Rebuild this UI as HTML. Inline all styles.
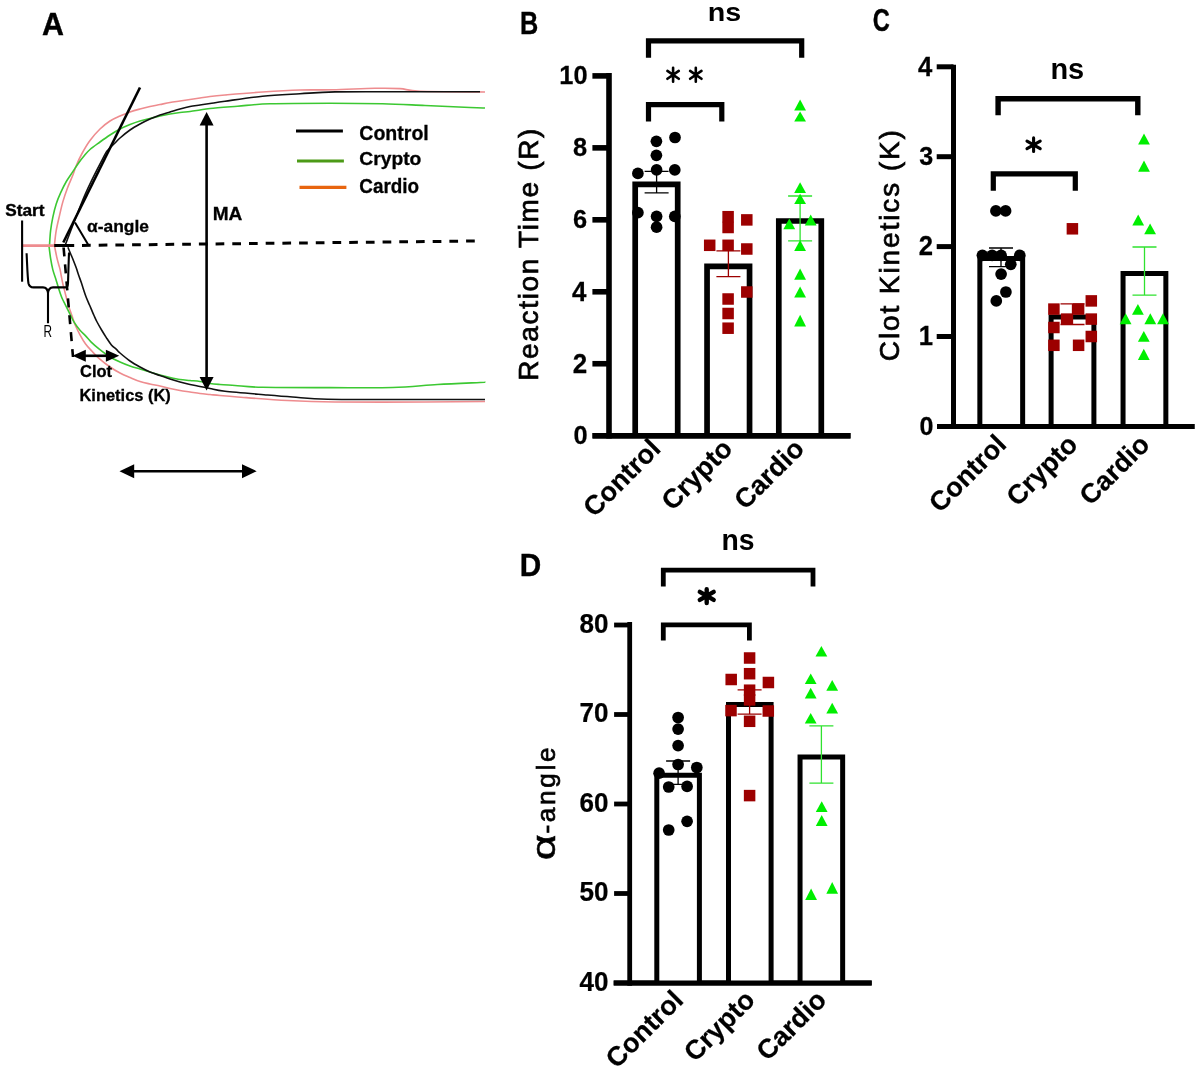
<!DOCTYPE html>
<html><head><meta charset="utf-8"><style>
html,body{margin:0;padding:0;background:#fff;}
svg{display:block;will-change:transform;}
text{font-family:"Liberation Sans",sans-serif;}
</style></head><body>
<svg width="1200" height="1071" viewBox="0 0 1200 1071">
<rect width="1200" height="1071" fill="#fff"/>
<text transform="translate(42.12,35.30) scale(0.9760,1)" style="font-family:&quot;Liberation Sans&quot;;font-weight:bold;font-style:normal;font-size:31.147px" fill="#000" stroke="#000" stroke-width="0.4">A</text>
<path d="M54.40,245.60 C54.70,243.12 55.33,235.78 56.20,230.70 C57.07,225.62 58.48,219.95 59.60,215.10 C60.72,210.25 61.60,206.08 62.90,201.60 C64.20,197.12 65.72,192.67 67.40,188.20 C69.08,183.73 71.52,178.58 73.00,174.80 C74.48,171.02 74.80,169.05 76.30,165.50 C77.80,161.95 79.72,157.67 82.00,153.50 C84.28,149.33 87.00,144.58 90.00,140.50 C93.00,136.42 96.67,132.25 100.00,129.00 C103.33,125.75 106.67,123.17 110.00,121.00 C113.33,118.83 116.67,117.50 120.00,116.00 C123.33,114.50 126.67,113.17 130.00,112.00 C133.33,110.83 136.67,109.92 140.00,109.00 C143.33,108.08 146.67,107.25 150.00,106.50 C153.33,105.75 156.67,105.17 160.00,104.50 C163.33,103.83 166.67,103.08 170.00,102.50 C173.33,101.92 176.67,101.50 180.00,101.00 C183.33,100.50 186.67,100.00 190.00,99.50 C193.33,99.00 196.67,98.50 200.00,98.00 C203.33,97.50 205.83,97.00 210.00,96.50 C214.17,96.00 216.25,95.75 225.00,95.00 C233.75,94.25 250.00,92.83 262.50,92.00 C275.00,91.17 288.33,90.37 300.00,90.00 C311.67,89.63 320.00,90.08 332.50,89.80 C345.00,89.52 363.75,88.50 375.00,88.30 C386.25,88.10 392.50,88.10 400.00,88.60 C407.50,89.10 405.83,90.73 420.00,91.30 C434.17,91.87 474.17,91.88 485.00,92.00" stroke="#ee8c8f" stroke-width="1.6" fill="none" />
<path d="M54.50,246.00 C54.87,247.80 56.05,253.88 56.70,256.80 C57.35,259.72 57.85,261.45 58.40,263.50 C58.95,265.55 59.45,266.67 60.00,269.10 C60.55,271.53 61.23,275.67 61.70,278.10 C62.17,280.53 62.33,281.65 62.80,283.70 C63.27,285.75 63.83,287.78 64.50,290.40 C65.17,293.02 66.07,296.63 66.80,299.40 C67.53,302.17 68.05,304.32 68.90,307.00 C69.75,309.68 70.85,312.50 71.90,315.50 C72.95,318.50 73.85,321.78 75.20,325.00 C76.55,328.22 78.27,331.63 80.00,334.80 C81.73,337.97 83.60,341.25 85.60,344.00 C87.60,346.75 89.82,348.95 92.00,351.30 C94.18,353.65 95.70,355.48 98.70,358.10 C101.70,360.72 106.45,364.52 110.00,367.00 C113.55,369.48 116.67,371.25 120.00,373.00 C123.33,374.75 126.67,376.08 130.00,377.50 C133.33,378.92 136.67,380.42 140.00,381.50 C143.33,382.58 146.67,383.25 150.00,384.00 C153.33,384.75 156.67,385.25 160.00,386.00 C163.33,386.75 166.67,387.75 170.00,388.50 C173.33,389.25 176.67,389.92 180.00,390.50 C183.33,391.08 186.67,391.50 190.00,392.00 C193.33,392.50 196.67,393.08 200.00,393.50 C203.33,393.92 206.67,394.17 210.00,394.50 C213.33,394.83 215.42,395.08 220.00,395.50 C224.58,395.92 226.25,396.17 237.50,397.00 C248.75,397.83 271.25,399.67 287.50,400.50 C303.75,401.33 312.08,401.75 335.00,402.00 C357.92,402.25 400.00,402.08 425.00,402.00 C450.00,401.92 475.00,401.58 485.00,401.50" stroke="#ee8c8f" stroke-width="1.6" fill="none" />
<path d="M49.50,245.00 C49.68,242.62 50.05,235.32 50.60,230.70 C51.15,226.08 51.87,221.77 52.80,217.30 C53.73,212.83 54.88,208.00 56.20,203.90 C57.52,199.80 59.02,196.43 60.70,192.70 C62.38,188.97 64.25,185.05 66.30,181.50 C68.35,177.95 70.95,174.48 73.00,171.40 C75.05,168.32 76.77,165.57 78.60,163.00 C80.43,160.43 82.10,158.25 84.00,156.00 C85.90,153.75 87.33,151.83 90.00,149.50 C92.67,147.17 96.67,144.42 100.00,142.00 C103.33,139.58 106.67,137.17 110.00,135.00 C113.33,132.83 116.67,130.75 120.00,129.00 C123.33,127.25 126.67,125.83 130.00,124.50 C133.33,123.17 136.67,122.00 140.00,121.00 C143.33,120.00 146.67,119.33 150.00,118.50 C153.33,117.67 156.67,116.75 160.00,116.00 C163.33,115.25 166.67,114.58 170.00,114.00 C173.33,113.42 176.67,112.92 180.00,112.50 C183.33,112.08 186.67,111.92 190.00,111.50 C193.33,111.08 196.67,110.50 200.00,110.00 C203.33,109.50 203.75,109.12 210.00,108.50 C216.25,107.88 227.50,107.04 237.50,106.25 C247.50,105.46 254.58,104.26 270.00,103.75 C285.42,103.24 311.25,103.20 330.00,103.20 C348.75,103.20 366.67,103.37 382.50,103.75 C398.33,104.13 410.42,104.88 425.00,105.50 C439.58,106.12 460.00,107.08 470.00,107.50 C480.00,107.92 482.50,107.92 485.00,108.00" stroke="#3cc832" stroke-width="1.6" fill="none" />
<path d="M49.00,246.00 C49.27,248.07 49.97,254.47 50.60,258.40 C51.23,262.33 51.93,266.17 52.80,269.60 C53.67,273.03 54.95,276.27 55.80,279.00 C56.65,281.73 57.15,283.58 57.90,286.00 C58.65,288.42 59.57,291.37 60.30,293.50 C61.03,295.63 61.50,297.00 62.30,298.80 C63.10,300.60 63.88,301.88 65.10,304.30 C66.32,306.72 68.10,310.32 69.60,313.30 C71.10,316.28 72.37,319.37 74.10,322.20 C75.83,325.03 78.08,328.02 80.00,330.30 C81.92,332.58 83.73,333.93 85.60,335.90 C87.47,337.87 88.87,339.85 91.20,342.10 C93.53,344.35 96.47,346.92 99.60,349.40 C102.73,351.88 106.60,354.90 110.00,357.00 C113.40,359.10 116.67,360.50 120.00,362.00 C123.33,363.50 126.67,364.83 130.00,366.00 C133.33,367.17 136.67,368.00 140.00,369.00 C143.33,370.00 146.67,371.00 150.00,372.00 C153.33,373.00 156.67,374.08 160.00,375.00 C163.33,375.92 166.67,376.75 170.00,377.50 C173.33,378.25 176.67,379.00 180.00,379.50 C183.33,380.00 186.67,380.17 190.00,380.50 C193.33,380.83 196.67,381.00 200.00,381.50 C203.33,382.00 206.67,383.00 210.00,383.50 C213.33,384.00 215.83,384.17 220.00,384.50 C224.17,384.83 227.92,385.03 235.00,385.50 C242.08,385.97 246.67,386.95 262.50,387.30 C278.33,387.65 308.33,387.57 330.00,387.60 C351.67,387.63 374.58,388.02 392.50,387.50 C410.42,386.98 422.92,385.33 437.50,384.50 C452.08,383.67 472.08,382.87 480.00,382.50 C487.92,382.13 484.17,382.33 485.00,382.30" stroke="#3cc832" stroke-width="1.6" fill="none" />
<path d="M65.10,245.50 C68.47,236.92 78.77,208.97 85.30,194.00 C91.83,179.03 100.43,163.12 104.30,155.70 C108.17,148.28 106.72,151.62 108.50,149.50 C110.28,147.38 113.08,144.92 115.00,143.00 C116.92,141.08 117.50,140.17 120.00,138.00 C122.50,135.83 126.67,132.33 130.00,130.00 C133.33,127.67 136.67,125.83 140.00,124.00 C143.33,122.17 146.67,120.50 150.00,119.00 C153.33,117.50 156.67,116.17 160.00,115.00 C163.33,113.83 166.67,113.00 170.00,112.00 C173.33,111.00 176.67,109.92 180.00,109.00 C183.33,108.08 186.67,107.17 190.00,106.50 C193.33,105.83 196.67,105.50 200.00,105.00 C203.33,104.50 205.83,104.12 210.00,103.50 C214.17,102.88 216.25,102.46 225.00,101.25 C233.75,100.04 250.00,97.50 262.50,96.25 C275.00,95.00 287.92,94.47 300.00,93.75 C312.08,93.03 318.33,92.23 335.00,91.90 C351.67,91.57 375.83,91.78 400.00,91.75 C424.17,91.72 466.67,91.75 480.00,91.75" stroke="#111" stroke-width="1.6" fill="none" />
<path d="M67.90,247.30 C68.37,248.42 69.77,251.77 70.70,254.00 C71.63,256.23 72.57,258.37 73.50,260.70 C74.43,263.03 75.47,265.67 76.30,268.00 C77.13,270.33 77.67,272.27 78.50,274.70 C79.33,277.13 80.47,280.13 81.30,282.60 C82.13,285.07 82.68,287.05 83.50,289.50 C84.32,291.95 85.20,294.72 86.20,297.30 C87.20,299.88 88.20,301.97 89.50,305.00 C90.80,308.03 92.78,312.75 94.00,315.50 C95.22,318.25 95.58,319.17 96.80,321.50 C98.02,323.83 99.72,326.82 101.30,329.50 C102.88,332.18 104.62,335.03 106.30,337.60 C107.98,340.17 109.72,342.93 111.40,344.90 C113.08,346.87 114.97,348.05 116.40,349.40 C117.83,350.75 117.73,351.07 120.00,353.00 C122.27,354.93 126.67,358.67 130.00,361.00 C133.33,363.33 136.67,365.17 140.00,367.00 C143.33,368.83 146.67,370.58 150.00,372.00 C153.33,373.42 156.67,374.33 160.00,375.50 C163.33,376.67 166.67,377.92 170.00,379.00 C173.33,380.08 176.67,381.08 180.00,382.00 C183.33,382.92 186.67,383.75 190.00,384.50 C193.33,385.25 196.67,385.83 200.00,386.50 C203.33,387.17 205.83,387.71 210.00,388.50 C214.17,389.29 215.42,390.17 225.00,391.25 C234.58,392.33 256.25,394.04 267.50,395.00 C278.75,395.96 282.50,396.28 292.50,397.00 C302.50,397.72 309.58,398.88 327.50,399.30 C345.42,399.72 373.75,399.47 400.00,399.50 C426.25,399.53 470.83,399.50 485.00,399.50" stroke="#111" stroke-width="1.6" fill="none" />
<line x1="22.80" y1="245.60" x2="54.50" y2="245.60" stroke="#ee8c8f" stroke-width="2.8" />
<line x1="22.10" y1="220.50" x2="22.10" y2="281.70" stroke="#000" stroke-width="2.1" />
<line x1="54.20" y1="245.50" x2="74.20" y2="245.50" stroke="#000" stroke-width="3" />
<line x1="82.00" y1="245.40" x2="477.00" y2="241.00" stroke="#000" stroke-width="3" stroke-dasharray="8.7 8"/>
<line x1="63.30" y1="242.50" x2="140.00" y2="87.50" stroke="#000" stroke-width="2.6" />
<line x1="75.00" y1="222.50" x2="88.50" y2="245.30" stroke="#000" stroke-width="2" />
<line x1="206.60" y1="122.00" x2="206.60" y2="380.00" stroke="#000" stroke-width="2.6" />
<path d="M206.60,112.00 L213.60,125.50 L199.60,125.50Z" fill="#000"/>
<path d="M206.60,390.50 L199.60,377.00 L213.60,377.00Z" fill="#000"/>
<path d="M26.6,253.3 C27.3,268 27.6,279 28.5,283.5 Q29.5,287.4 33.5,287.4 H43 Q47.6,287.6 48,293 V323.3 M48,293 Q48.6,287.4 53,287.4 H65.5 Q67.8,287.4 68,283.5 C68.3,275 68.6,262 69,252.5" stroke="#000" stroke-width="2.1" fill="none" />
<line x1="63.60" y1="247.50" x2="73.00" y2="357.00" stroke="#000" stroke-width="2.6" stroke-dasharray="9 8"/>
<line x1="80.00" y1="355.80" x2="112.00" y2="355.80" stroke="#000" stroke-width="2.6" />
<path d="M72.50,355.80 L85.80,349.80 L85.80,361.80Z" fill="#000"/>
<path d="M119.20,355.80 L105.90,361.80 L105.90,349.80Z" fill="#000"/>
<line x1="128.00" y1="471.20" x2="248.00" y2="471.20" stroke="#000" stroke-width="2.6" />
<path d="M119.50,471.20 L134.20,464.20 L134.20,478.20Z" fill="#000"/>
<path d="M256.70,471.20 L242.00,478.20 L242.00,464.20Z" fill="#000"/>
<line x1="296.00" y1="131.00" x2="342.90" y2="131.00" stroke="#000" stroke-width="3.1" />
<line x1="297.00" y1="161.00" x2="343.90" y2="161.00" stroke="#4c9a17" stroke-width="3.1" />
<line x1="299.50" y1="187.40" x2="346.40" y2="187.40" stroke="#e8650f" stroke-width="3.1" />
<text transform="translate(359.29,139.79) scale(0.9785,1)" style="font-family:&quot;Liberation Sans&quot;;font-weight:bold;font-style:normal;font-size:20.000px" fill="#000" stroke="#000" stroke-width="0.3">Control</text>
<text transform="translate(359.30,165.43) scale(1.0906,1)" style="font-family:&quot;Liberation Sans&quot;;font-weight:bold;font-style:normal;font-size:17.681px" fill="#000" stroke="#000" stroke-width="0.3">Crypto</text>
<text transform="translate(359.31,193.29) scale(0.9635,1)" style="font-family:&quot;Liberation Sans&quot;;font-weight:bold;font-style:normal;font-size:19.600px" fill="#000" stroke="#000" stroke-width="0.3">Cardio</text>
<text transform="translate(5.23,216.04) scale(1.0406,1)" style="font-family:&quot;Liberation Sans&quot;;font-weight:bold;font-style:normal;font-size:16.557px" fill="#000" stroke="#000" stroke-width="0.4">Start</text>
<text transform="translate(86.96,232.44) scale(1.0119,1)" style="font-family:&quot;Liberation Sans&quot;;font-weight:bold;font-style:normal;font-size:17.207px" fill="#000" stroke="#000" stroke-width="0.3">α-angle</text>
<text transform="translate(212.71,219.75) scale(1.0945,1)" style="font-family:&quot;Liberation Sans&quot;;font-weight:bold;font-style:normal;font-size:17.422px" fill="#000" stroke="#000" stroke-width="0.3">MA</text>
<text transform="translate(43.48,337.20) scale(0.7352,1)" style="font-family:&quot;Liberation Sans&quot;;font-weight:normal;font-style:normal;font-size:16.071px" fill="#000">R</text>
<text transform="translate(79.98,377.05) scale(1.0495,1)" style="font-family:&quot;Liberation Sans&quot;;font-weight:bold;font-style:normal;font-size:15.733px" fill="#000" stroke="#000" stroke-width="0.3">Clot</text>
<text transform="translate(79.47,400.90) scale(0.9989,1)" style="font-family:&quot;Liberation Sans&quot;;font-weight:bold;font-style:normal;font-size:16.472px" fill="#000" stroke="#000" stroke-width="0.3">Kinetics (K)</text>
<text transform="translate(520.12,34.30) scale(0.7935,1)" style="font-family:&quot;Liberation Sans&quot;;font-weight:bold;font-style:normal;font-size:31.858px" fill="#000" stroke="#000" stroke-width="0.4">B</text>
<line x1="609.00" y1="73.10" x2="609.00" y2="438.50" stroke="#000" stroke-width="5.6" />
<line x1="592.40" y1="363.74" x2="609.00" y2="363.74" stroke="#000" stroke-width="5.6" />
<line x1="592.40" y1="291.78" x2="609.00" y2="291.78" stroke="#000" stroke-width="5.6" />
<line x1="592.40" y1="219.82" x2="609.00" y2="219.82" stroke="#000" stroke-width="5.6" />
<line x1="592.40" y1="147.86" x2="609.00" y2="147.86" stroke="#000" stroke-width="5.6" />
<line x1="592.40" y1="75.90" x2="609.00" y2="75.90" stroke="#000" stroke-width="5.6" />
<line x1="592.50" y1="435.70" x2="850.50" y2="435.70" stroke="#000" stroke-width="5.6" />
<text transform="translate(573.41,444.19) scale(0.9600,1)" style="font-family:&quot;Liberation Sans&quot;;font-weight:bold;font-size:26.435px" fill="#000" stroke="#000" stroke-width="0.25">0</text>
<text transform="translate(572.72,372.64) scale(0.9600,1)" style="font-family:&quot;Liberation Sans&quot;;font-weight:bold;font-size:27.022px" fill="#000" stroke="#000" stroke-width="0.25">2</text>
<text transform="translate(571.91,300.68) scale(0.9600,1)" style="font-family:&quot;Liberation Sans&quot;;font-weight:bold;font-size:27.022px" fill="#000" stroke="#000" stroke-width="0.25">4</text>
<text transform="translate(573.02,228.31) scale(0.9600,1)" style="font-family:&quot;Liberation Sans&quot;;font-weight:bold;font-size:26.435px" fill="#000" stroke="#000" stroke-width="0.25">6</text>
<text transform="translate(573.02,156.35) scale(0.9600,1)" style="font-family:&quot;Liberation Sans&quot;;font-weight:bold;font-size:26.435px" fill="#000" stroke="#000" stroke-width="0.25">8</text>
<text transform="translate(559.30,84.39) scale(0.9600,1)" style="font-family:&quot;Liberation Sans&quot;;font-weight:bold;font-size:26.435px" fill="#000" stroke="#000" stroke-width="0.25">10</text>
<path d="M635.20,435.70 V184.40 H677.70 V435.70" stroke="#000" stroke-width="5.7" fill="#fff" stroke-linejoin="miter"/>
<path d="M707.05,435.70 V266.40 H749.55 V435.70" stroke="#000" stroke-width="5.7" fill="#fff" stroke-linejoin="miter"/>
<path d="M778.80,435.70 V221.00 H821.30 V435.70" stroke="#000" stroke-width="5.7" fill="#fff" stroke-linejoin="miter"/>
<line x1="592.50" y1="435.70" x2="850.50" y2="435.70" stroke="#000" stroke-width="5.6" />
<path d="M644.60,171.40 H668.60 M656.60,171.40 V192.80 M644.60,192.80 H668.60" stroke="#000" stroke-width="1.3" fill="none" />
<path d="M716.40,250.90 H740.40 M728.40,250.90 V276.60 M716.40,276.60 H740.40" stroke="#9c0000" stroke-width="1.3" fill="none" />
<path d="M788.10,196.00 H812.10 M800.10,196.00 V240.80 M788.10,240.80 H812.10" stroke="#2fe22f" stroke-width="1.3" fill="none" />
<circle cx="675.00" cy="137.50" r="5.85" fill="#000"/>
<circle cx="656.40" cy="141.30" r="5.85" fill="#000"/>
<circle cx="656.40" cy="155.30" r="5.85" fill="#000"/>
<circle cx="637.90" cy="173.40" r="5.85" fill="#000"/>
<circle cx="656.60" cy="169.90" r="5.85" fill="#000"/>
<circle cx="674.80" cy="169.90" r="5.85" fill="#000"/>
<circle cx="637.90" cy="212.70" r="5.85" fill="#000"/>
<circle cx="656.60" cy="216.40" r="5.85" fill="#000"/>
<circle cx="674.80" cy="216.40" r="5.85" fill="#000"/>
<circle cx="656.60" cy="227.20" r="5.85" fill="#000"/>
<rect x="722.35" y="210.95" width="11.5" height="11.5" fill="#9c0000"/>
<rect x="722.35" y="221.75" width="11.5" height="11.5" fill="#9c0000"/>
<rect x="741.05" y="214.15" width="11.5" height="11.5" fill="#9c0000"/>
<rect x="703.95" y="239.55" width="11.5" height="11.5" fill="#9c0000"/>
<rect x="722.35" y="239.55" width="11.5" height="11.5" fill="#9c0000"/>
<rect x="741.05" y="243.25" width="11.5" height="11.5" fill="#9c0000"/>
<rect x="741.05" y="286.25" width="11.5" height="11.5" fill="#9c0000"/>
<rect x="722.35" y="293.25" width="11.5" height="11.5" fill="#9c0000"/>
<rect x="722.35" y="307.75" width="11.5" height="11.5" fill="#9c0000"/>
<rect x="722.35" y="322.45" width="11.5" height="11.5" fill="#9c0000"/>
<path d="M800.10,99.50 L806.00,110.60 L794.20,110.60Z" fill="#00ee00"/>
<path d="M800.10,111.50 L806.00,121.60 L794.20,121.60Z" fill="#00ee00"/>
<path d="M800.10,182.20 L806.00,192.90 L794.20,192.90Z" fill="#00ee00"/>
<path d="M800.10,193.70 L806.00,204.10 L794.20,204.10Z" fill="#00ee00"/>
<path d="M789.30,218.40 L795.20,229.20 L783.40,229.20Z" fill="#00ee00"/>
<path d="M810.70,214.60 L816.60,225.40 L804.80,225.40Z" fill="#00ee00"/>
<path d="M800.10,240.10 L806.00,250.90 L794.20,250.90Z" fill="#00ee00"/>
<path d="M800.10,268.50 L806.00,279.70 L794.20,279.70Z" fill="#00ee00"/>
<path d="M800.10,286.50 L806.00,297.60 L794.20,297.60Z" fill="#00ee00"/>
<path d="M800.10,314.80 L806.00,326.40 L794.20,326.40Z" fill="#00ee00"/>
<path d="M648.50,57.80 V40.90 H801.70 V57.80" stroke="#000" stroke-width="5.2" fill="none" stroke-linejoin="miter"/>
<path d="M648.50,121.40 V104.60 H721.80 V121.40" stroke="#000" stroke-width="5.2" fill="none" stroke-linejoin="miter"/>
<text transform="translate(707.71,21.29) scale(1.0822,1)" style="font-family:&quot;Liberation Sans&quot;;font-weight:bold;font-style:normal;font-size:26.489px" fill="#000">ns</text>
<path d="M673.10,67.70 V81.75 M667.40,70.90 L678.80,78.80 M667.40,78.80 L678.80,70.90" stroke="#000" stroke-width="2.6" fill="none" stroke-linecap="round"/>
<path d="M695.80,67.70 V81.75 M690.10,70.90 L701.50,78.80 M690.10,78.80 L701.50,70.90" stroke="#000" stroke-width="2.6" fill="none" stroke-linecap="round"/>
<text transform="translate(538.40,380.79) rotate(-90) scale(1.0000,1)" style="font-family:&quot;Liberation Sans&quot;;font-weight:normal;font-size:28.018px" fill="#000" stroke="#000" stroke-width="0.7" textLength="252.24" lengthAdjust="spacing">Reaction Time (R)</text>
<text transform="translate(662.05,450.30) rotate(-45) scale(1.0000,1)" style="font-family:&quot;Liberation Sans&quot;;font-weight:bold;font-size:27.000px" text-anchor="end" fill="#000" stroke="#000" stroke-width="0.25">Control</text>
<text transform="translate(733.90,450.30) rotate(-45) scale(1.0000,1)" style="font-family:&quot;Liberation Sans&quot;;font-weight:bold;font-size:27.000px" text-anchor="end" fill="#000" stroke="#000" stroke-width="0.25">Crypto</text>
<text transform="translate(805.65,450.30) rotate(-45) scale(1.0000,1)" style="font-family:&quot;Liberation Sans&quot;;font-weight:bold;font-size:27.000px" text-anchor="end" fill="#000" stroke="#000" stroke-width="0.25">Cardio</text>
<text transform="translate(872.86,30.52) scale(0.7732,1)" style="font-family:&quot;Liberation Sans&quot;;font-weight:bold;font-style:normal;font-size:30.609px" fill="#000" stroke="#000" stroke-width="0.4">C</text>
<line x1="953.50" y1="64.70" x2="953.50" y2="428.50" stroke="#000" stroke-width="5.0" />
<line x1="936.70" y1="336.50" x2="953.50" y2="336.50" stroke="#000" stroke-width="5.0" />
<line x1="936.70" y1="246.60" x2="953.50" y2="246.60" stroke="#000" stroke-width="5.0" />
<line x1="936.70" y1="156.70" x2="953.50" y2="156.70" stroke="#000" stroke-width="5.0" />
<line x1="936.70" y1="66.80" x2="953.50" y2="66.80" stroke="#000" stroke-width="5.0" />
<line x1="937.00" y1="426.40" x2="1194.50" y2="426.40" stroke="#000" stroke-width="5.0" />
<text transform="translate(919.55,434.79) scale(0.9600,1)" style="font-family:&quot;Liberation Sans&quot;;font-weight:bold;font-size:26.157px" fill="#000" stroke="#000" stroke-width="0.25">0</text>
<text transform="translate(918.86,345.30) scale(0.9600,1)" style="font-family:&quot;Liberation Sans&quot;;font-weight:bold;font-size:26.738px" fill="#000" stroke="#000" stroke-width="0.25">1</text>
<text transform="translate(918.86,255.40) scale(0.9600,1)" style="font-family:&quot;Liberation Sans&quot;;font-weight:bold;font-size:26.738px" fill="#000" stroke="#000" stroke-width="0.25">2</text>
<text transform="translate(919.16,165.09) scale(0.9600,1)" style="font-family:&quot;Liberation Sans&quot;;font-weight:bold;font-size:26.157px" fill="#000" stroke="#000" stroke-width="0.25">3</text>
<text transform="translate(918.06,75.60) scale(0.9600,1)" style="font-family:&quot;Liberation Sans&quot;;font-weight:bold;font-size:26.738px" fill="#000" stroke="#000" stroke-width="0.25">4</text>
<path d="M979.85,426.40 V258.50 H1022.65 V426.40" stroke="#000" stroke-width="5.0" fill="#fff" stroke-linejoin="miter"/>
<path d="M1051.10,426.40 V317.00 H1093.90 V426.40" stroke="#000" stroke-width="5.0" fill="#fff" stroke-linejoin="miter"/>
<path d="M1123.05,426.40 V273.50 H1165.85 V426.40" stroke="#000" stroke-width="5.0" fill="#fff" stroke-linejoin="miter"/>
<line x1="937.00" y1="426.40" x2="1194.50" y2="426.40" stroke="#000" stroke-width="5.0" />
<path d="M989.00,248.00 H1013.00 M1001.00,248.00 V266.60 M989.00,266.60 H1013.00" stroke="#000" stroke-width="1.3" fill="none" />
<path d="M1060.50,303.90 H1084.50 M1072.50,303.90 V324.50 M1060.50,324.50 H1084.50" stroke="#9c0000" stroke-width="1.3" fill="none" />
<path d="M1132.50,247.00 H1156.50 M1144.50,247.00 V295.20 M1132.50,295.20 H1156.50" stroke="#2fe22f" stroke-width="1.3" fill="none" />
<circle cx="995.90" cy="210.90" r="5.85" fill="#000"/>
<circle cx="1005.60" cy="210.90" r="5.85" fill="#000"/>
<circle cx="982.40" cy="255.30" r="5.85" fill="#000"/>
<circle cx="992.10" cy="255.30" r="5.85" fill="#000"/>
<circle cx="1001.10" cy="255.30" r="5.85" fill="#000"/>
<circle cx="1019.80" cy="255.30" r="5.85" fill="#000"/>
<circle cx="1010.80" cy="264.30" r="5.85" fill="#000"/>
<circle cx="1001.10" cy="274.10" r="5.85" fill="#000"/>
<circle cx="1005.90" cy="292.00" r="5.85" fill="#000"/>
<circle cx="996.30" cy="300.90" r="5.85" fill="#000"/>
<rect x="1066.65" y="223.05" width="11.5" height="11.5" fill="#9c0000"/>
<rect x="1048.15" y="303.35" width="11.5" height="11.5" fill="#9c0000"/>
<rect x="1072.85" y="303.35" width="11.5" height="11.5" fill="#9c0000"/>
<rect x="1085.55" y="295.15" width="11.5" height="11.5" fill="#9c0000"/>
<rect x="1060.85" y="313.35" width="11.5" height="11.5" fill="#9c0000"/>
<rect x="1085.55" y="313.35" width="11.5" height="11.5" fill="#9c0000"/>
<rect x="1048.15" y="321.75" width="11.5" height="11.5" fill="#9c0000"/>
<rect x="1085.55" y="330.75" width="11.5" height="11.5" fill="#9c0000"/>
<rect x="1048.15" y="339.55" width="11.5" height="11.5" fill="#9c0000"/>
<rect x="1072.85" y="339.55" width="11.5" height="11.5" fill="#9c0000"/>
<path d="M1144.00,133.40 L1149.90,144.50 L1138.10,144.50Z" fill="#00ee00"/>
<path d="M1144.00,160.60 L1149.90,171.80 L1138.10,171.80Z" fill="#00ee00"/>
<path d="M1138.20,214.40 L1144.10,225.60 L1132.30,225.60Z" fill="#00ee00"/>
<path d="M1150.10,223.40 L1156.00,234.20 L1144.20,234.20Z" fill="#00ee00"/>
<path d="M1137.90,304.00 L1143.80,314.80 L1132.00,314.80Z" fill="#00ee00"/>
<path d="M1125.60,313.30 L1131.50,324.20 L1119.70,324.20Z" fill="#00ee00"/>
<path d="M1150.30,313.30 L1156.20,324.20 L1144.40,324.20Z" fill="#00ee00"/>
<path d="M1163.00,313.30 L1168.90,324.20 L1157.10,324.20Z" fill="#00ee00"/>
<path d="M1143.80,330.90 L1149.70,341.70 L1137.90,341.70Z" fill="#00ee00"/>
<path d="M1143.80,348.80 L1149.70,360.10 L1137.90,360.10Z" fill="#00ee00"/>
<path d="M998.10,115.30 V98.75 H1137.80 V115.30" stroke="#000" stroke-width="5.4" fill="none" stroke-linejoin="miter"/>
<path d="M993.30,190.80 V173.80 H1075.30 V190.80" stroke="#000" stroke-width="5.2" fill="none" stroke-linejoin="miter"/>
<text transform="translate(1050.39,79.49) scale(0.9751,1)" style="font-family:&quot;Liberation Sans&quot;;font-weight:bold;font-style:normal;font-size:29.689px" fill="#000">ns</text>
<path d="M1033.60,137.90 V151.50 M1027.00,141.10 L1040.20,148.70 M1027.00,148.70 L1040.20,141.10" stroke="#000" stroke-width="3.1" fill="none" stroke-linecap="round"/>
<text transform="translate(899.10,361.21) rotate(-90) scale(1.0000,1)" style="font-family:&quot;Liberation Sans&quot;;font-weight:normal;font-size:28.018px" fill="#000" stroke="#000" stroke-width="0.7" textLength="231.06" lengthAdjust="spacing">Clot Kinetics (K)</text>
<text transform="translate(1007.85,446.00) rotate(-45) scale(1.0000,1)" style="font-family:&quot;Liberation Sans&quot;;font-weight:bold;font-size:27.000px" text-anchor="end" fill="#000" stroke="#000" stroke-width="0.25">Control</text>
<text transform="translate(1079.10,446.00) rotate(-45) scale(1.0000,1)" style="font-family:&quot;Liberation Sans&quot;;font-weight:bold;font-size:27.000px" text-anchor="end" fill="#000" stroke="#000" stroke-width="0.25">Crypto</text>
<text transform="translate(1151.05,446.00) rotate(-45) scale(1.0000,1)" style="font-family:&quot;Liberation Sans&quot;;font-weight:bold;font-size:27.000px" text-anchor="end" fill="#000" stroke="#000" stroke-width="0.25">Cardio</text>
<text transform="translate(519.84,575.70) scale(0.9468,1)" style="font-family:&quot;Liberation Sans&quot;;font-weight:bold;font-style:normal;font-size:31.431px" fill="#000" stroke="#000" stroke-width="0.4">D</text>
<line x1="629.70" y1="622.10" x2="629.70" y2="985.80" stroke="#000" stroke-width="4.8" />
<line x1="614.10" y1="893.50" x2="629.70" y2="893.50" stroke="#000" stroke-width="4.8" />
<line x1="614.10" y1="804.00" x2="629.70" y2="804.00" stroke="#000" stroke-width="4.8" />
<line x1="614.10" y1="714.50" x2="629.70" y2="714.50" stroke="#000" stroke-width="4.8" />
<line x1="614.10" y1="625.00" x2="629.70" y2="625.00" stroke="#000" stroke-width="4.8" />
<line x1="613.70" y1="983.00" x2="871.70" y2="983.00" stroke="#000" stroke-width="4.8" />
<text transform="translate(579.58,990.98) scale(0.9700,1)" style="font-family:&quot;Liberation Sans&quot;;font-weight:bold;font-size:26.852px" fill="#000" stroke="#000" stroke-width="0.25">40</text>
<text transform="translate(579.58,901.48) scale(0.9700,1)" style="font-family:&quot;Liberation Sans&quot;;font-weight:bold;font-size:26.852px" fill="#000" stroke="#000" stroke-width="0.25">50</text>
<text transform="translate(579.58,811.98) scale(0.9700,1)" style="font-family:&quot;Liberation Sans&quot;;font-weight:bold;font-size:26.852px" fill="#000" stroke="#000" stroke-width="0.25">60</text>
<text transform="translate(579.58,722.48) scale(0.9700,1)" style="font-family:&quot;Liberation Sans&quot;;font-weight:bold;font-size:26.852px" fill="#000" stroke="#000" stroke-width="0.25">70</text>
<text transform="translate(579.58,632.98) scale(0.9700,1)" style="font-family:&quot;Liberation Sans&quot;;font-weight:bold;font-size:26.852px" fill="#000" stroke="#000" stroke-width="0.25">80</text>
<path d="M656.80,983.00 V775.20 H699.40 V983.00" stroke="#000" stroke-width="5.0" fill="#fff" stroke-linejoin="miter"/>
<path d="M728.50,983.00 V704.50 H771.10 V983.00" stroke="#000" stroke-width="5.0" fill="#fff" stroke-linejoin="miter"/>
<path d="M800.05,983.00 V757.00 H842.65 V983.00" stroke="#000" stroke-width="5.0" fill="#fff" stroke-linejoin="miter"/>
<line x1="613.70" y1="983.00" x2="871.70" y2="983.00" stroke="#000" stroke-width="4.8" />
<path d="M666.10,761.00 H690.10 M678.10,761.00 V784.40 M666.10,784.40 H690.10" stroke="#000" stroke-width="1.3" fill="none" />
<path d="M737.60,689.90 H761.60 M749.60,689.90 V714.20 M737.60,714.20 H761.60" stroke="#9c0000" stroke-width="1.3" fill="none" />
<path d="M809.40,725.90 H833.40 M821.40,725.90 V783.20 M809.40,783.20 H833.40" stroke="#2fe22f" stroke-width="1.3" fill="none" />
<circle cx="678.10" cy="717.50" r="5.85" fill="#000"/>
<circle cx="678.10" cy="729.10" r="5.85" fill="#000"/>
<circle cx="678.10" cy="745.60" r="5.85" fill="#000"/>
<circle cx="678.10" cy="764.50" r="5.85" fill="#000"/>
<circle cx="696.80" cy="767.50" r="5.85" fill="#000"/>
<circle cx="659.10" cy="773.20" r="5.85" fill="#000"/>
<circle cx="668.70" cy="787.00" r="5.85" fill="#000"/>
<circle cx="687.10" cy="786.40" r="5.85" fill="#000"/>
<circle cx="687.10" cy="821.30" r="5.85" fill="#000"/>
<circle cx="668.70" cy="830.00" r="5.85" fill="#000"/>
<rect x="743.85" y="652.25" width="11.5" height="11.5" fill="#9c0000"/>
<rect x="743.85" y="667.95" width="11.5" height="11.5" fill="#9c0000"/>
<rect x="725.45" y="673.75" width="11.5" height="11.5" fill="#9c0000"/>
<rect x="762.65" y="676.75" width="11.5" height="11.5" fill="#9c0000"/>
<rect x="743.85" y="684.45" width="11.5" height="11.5" fill="#9c0000"/>
<rect x="743.85" y="694.15" width="11.5" height="11.5" fill="#9c0000"/>
<rect x="725.25" y="704.85" width="11.5" height="11.5" fill="#9c0000"/>
<rect x="762.55" y="705.25" width="11.5" height="11.5" fill="#9c0000"/>
<rect x="743.85" y="715.55" width="11.5" height="11.5" fill="#9c0000"/>
<rect x="743.85" y="789.85" width="11.5" height="11.5" fill="#9c0000"/>
<path d="M821.40,646.00 L827.30,656.40 L815.50,656.40Z" fill="#00ee00"/>
<path d="M810.70,673.40 L816.60,684.10 L804.80,684.10Z" fill="#00ee00"/>
<path d="M832.20,680.00 L838.10,690.70 L826.30,690.70Z" fill="#00ee00"/>
<path d="M810.70,687.80 L816.60,698.50 L804.80,698.50Z" fill="#00ee00"/>
<path d="M832.20,702.80 L838.10,713.60 L826.30,713.60Z" fill="#00ee00"/>
<path d="M810.70,713.00 L816.60,723.60 L804.80,723.60Z" fill="#00ee00"/>
<path d="M821.70,801.30 L827.60,812.00 L815.80,812.00Z" fill="#00ee00"/>
<path d="M821.70,814.90 L827.60,825.90 L815.80,825.90Z" fill="#00ee00"/>
<path d="M811.10,888.60 L817.00,899.90 L805.20,899.90Z" fill="#00ee00"/>
<path d="M832.20,882.10 L838.10,893.80 L826.30,893.80Z" fill="#00ee00"/>
<path d="M663.30,586.50 V570.10 H813.00 V586.50" stroke="#000" stroke-width="4.8" fill="none" stroke-linejoin="miter"/>
<path d="M663.30,640.50 V624.80 H749.40 V640.50" stroke="#000" stroke-width="4.8" fill="none" stroke-linejoin="miter"/>
<text transform="translate(721.48,549.79) scale(0.9631,1)" style="font-family:&quot;Liberation Sans&quot;;font-weight:bold;font-style:normal;font-size:29.422px" fill="#000">ns</text>
<path d="M706.70,589.30 V603.10 M699.80,591.80 L713.70,599.90 M699.80,599.90 L713.70,591.80" stroke="#000" stroke-width="4.4" fill="none" stroke-linecap="round"/>
<text transform="translate(555.20,833.62) rotate(-90) scale(1.0000,1)" style="font-family:&quot;Liberation Sans&quot;;font-weight:normal;font-size:26.145px" fill="#000" stroke="#000" stroke-width="0.7" textLength="86.28" lengthAdjust="spacing">-angle</text>
<text transform="translate(555.38,860.31) rotate(-90) scale(1.3533,1)" style="font-family:&quot;Liberation Sans&quot;;font-weight:normal;font-style:normal;font-size:33.244px" fill="#000" stroke="#000" stroke-width="0.55">α</text>
<text transform="translate(684.70,1001.60) rotate(-45) scale(1.0000,1)" style="font-family:&quot;Liberation Sans&quot;;font-weight:bold;font-size:27.000px" text-anchor="end" fill="#000" stroke="#000" stroke-width="0.25">Control</text>
<text transform="translate(756.40,1001.60) rotate(-45) scale(1.0000,1)" style="font-family:&quot;Liberation Sans&quot;;font-weight:bold;font-size:27.000px" text-anchor="end" fill="#000" stroke="#000" stroke-width="0.25">Crypto</text>
<text transform="translate(827.95,1001.60) rotate(-45) scale(1.0000,1)" style="font-family:&quot;Liberation Sans&quot;;font-weight:bold;font-size:27.000px" text-anchor="end" fill="#000" stroke="#000" stroke-width="0.25">Cardio</text>
</svg>
</body></html>
